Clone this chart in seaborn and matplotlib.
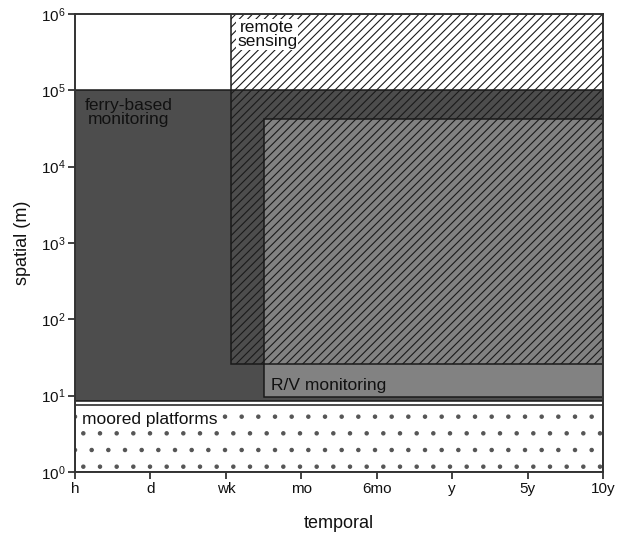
import numpy as np
import matplotlib
matplotlib.use("Agg")
import matplotlib.pyplot as plt
import seaborn as sns

# temporal axis categories (evenly spaced)
temporal_labels = ["h", "d", "wk", "mo", "6mo", "y", "5y", "10y"]

# monitoring approaches: temporal extent (category index) and spatial extent (m)
platforms = ["ferry", "rv", "remote", "moored"]
t_start = [0.0, 2.5, 2.07, 0.0]
t_end = [7.0, 7.0, 7.0, 7.0]
s_low = [8.5, 9.6, 26.0, 1.0]
s_high = [1.0e5, 4.2e4, 1.0e6, 7.5]

labels = {
    "ferry": "ferry-based\nmonitoring",
    "rv": "R/V monitoring",
    "remote": "remote\nsensing",
    "moored": "moored platforms",
}

sns.set_theme(style="ticks")
plt.rcParams["font.family"] = ["Liberation Sans", "DejaVu Sans"]
plt.rcParams["hatch.linewidth"] = 0.8

fig = plt.figure(figsize=(6.18, 5.36), dpi=100)
ax = fig.add_axes([0.1214, 0.1194, 0.8543, 0.8545])
ax.set_yscale("log")

styles = {
    "ferry": dict(color="#4d4d4d", hatch=None, hc="#1a1a1a", zorder=1),
    "rv": dict(color="#828282", hatch=None, hc="#1a1a1a", zorder=2),
    "remote": dict(color="none", hatch="////", hc="#1a1a1a", zorder=3),
    "moored": dict(color="white", hatch=".", hc="#555555", zorder=2),
}

for i, name in enumerate(platforms):
    st = styles[name]
    # fill + hatch
    ax.bar(t_start[i], s_high[i] - s_low[i], width=t_end[i] - t_start[i],
           bottom=s_low[i], align="edge", facecolor=st["color"],
           edgecolor=st["hc"], linewidth=0, hatch=st["hatch"],
           zorder=st["zorder"])
    # outline
    ax.bar(t_start[i], s_high[i] - s_low[i], width=t_end[i] - t_start[i],
           bottom=s_low[i], align="edge", facecolor="none",
           edgecolor="#1a1a1a", linewidth=1.1, zorder=st["zorder"])

txt = dict(fontsize=12.5, color="#111111", zorder=5)
ax.text(2.15, 8.4e5, labels["remote"], ha="left", va="top",
        multialignment="center", linespacing=0.95,
        bbox=dict(facecolor="white", edgecolor="none", pad=0.5), **txt)
ax.text(0.13, 8.0e4, labels["ferry"], ha="left", va="top",
        multialignment="center", linespacing=0.95, **txt)
ax.text(2.6, 13.5, labels["rv"], ha="left", va="center", **txt)
ax.text(0.09, 4.9, labels["moored"], ha="left", va="center",
        bbox=dict(facecolor="white", edgecolor="none", pad=0.5), **txt)

ax.set_xlim(0, 7)
ax.set_ylim(1, 1e6)
ax.set_xticks(range(len(temporal_labels)))
ax.set_xticklabels(temporal_labels)
ax.yaxis.set_minor_locator(matplotlib.ticker.NullLocator())
ax.set_yticks([10.0 ** k for k in range(7)])

ax.tick_params(axis="both", direction="out", length=5, width=1.3,
               color="#333333", labelsize=11, labelcolor="#111111", pad=2)
for sp in ax.spines.values():
    sp.set_color("#333333")
    sp.set_linewidth(1.4)
    sp.set_zorder(6)

ax.set_xlabel("temporal", fontsize=13, labelpad=14, color="#111111")
ax.set_ylabel("spatial (m)", fontsize=13, labelpad=7, color="#111111")

fig.savefig("out.png", dpi=100)
